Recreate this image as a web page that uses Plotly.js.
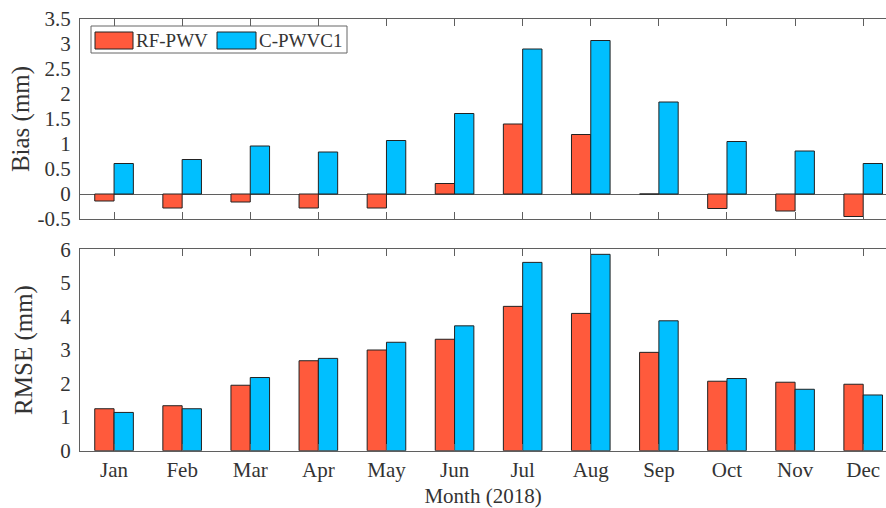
<!DOCTYPE html>
<html>
<head>
<meta charset="utf-8">
<script src="https://cdn.plot.ly/plotly-3.0.1.min.js"></script>
<style>html,body{margin:0;padding:0;background:#fff;}#chart{width:886px;height:508px;}</style>
</head>
<body>
<div id="chart"></div>
<script>
const months = ["Jan","Feb","Mar","Apr","May","Jun","Jul","Aug","Sep","Oct","Nov","Dec"];
const biasRF    = [-0.14,-0.28,-0.16,-0.28,-0.28,0.21,1.40,1.19,0.0,-0.29,-0.34,-0.45];
const biasC     = [0.61,0.69,0.96,0.84,1.07,1.61,2.90,3.07,1.84,1.05,0.86,0.61];
const rmseRF    = [1.25,1.34,1.95,2.68,3.00,3.32,4.30,4.09,2.93,2.07,2.04,1.98];
const rmseC     = [1.14,1.25,2.18,2.75,3.23,3.72,5.61,5.85,3.87,2.15,1.83,1.66];
const seriesNames = ["RF-PWV","C-PWVC1"];
const biasTicks = [-0.5,0,0.5,1,1.5,2,2.5,3,3.5];
const biasTickText = ["-0.5","0","0.5","1","1.5","2","2.5","3","3.5"];
const rmseTicks = [0,1,2,3,4,5,6];

const RED = "#FF5A3C", BLUE = "#00BFFF";
const FONT = "Liberation Serif";
const TXT = "#333333", LINE = "#5f5f5f";
const H = 508, W = 886;

function bar(y, name, color, xa, ya) {
  return {type:"bar", x: months, y: y, name: name, xaxis: xa, yaxis: ya,
    marker:{color: color, line:{color:"#222", width:1}}, showlegend:false};
}

const data = [
  bar(biasRF, seriesNames[0], RED, "x", "y"),
  bar(biasC, seriesNames[1], BLUE, "x", "y"),
  bar(rmseRF, seriesNames[0], RED, "x2", "y2"),
  bar(rmseC, seriesNames[1], BLUE, "x2", "y2")
];

const xCommon = {type:"category", range:[-0.5, 11.335], showline:true, linecolor:LINE, linewidth:1,
  mirror:"ticks", ticks:"inside", ticklen:7, tickcolor:LINE, tickwidth:1, showgrid:false, zeroline:false,
  fixedrange:true, automargin:false, tickfont:{family:FONT, size:21, color:TXT}};

const px = v => v / H;
const layout = {
  width:W, height:H, paper_bgcolor:"#fff", plot_bgcolor:"#fff",
  margin:{l:80, r:0, t:0, b:0}, barmode:"group", bargap:0.433, bargroupgap:0,
  font:{family:FONT, color:TXT},
  xaxis: Object.assign({}, xCommon, {anchor:"y", showticklabels:false, domain:[0,1]}),
  xaxis2: Object.assign({}, xCommon, {anchor:"y2", domain:[0,1],
    title:{text:"Month (2018)", font:{family:FONT, size:21, color:TXT}, standoff:9}}),
  yaxis: {domain:[1-px(219), 1-px(19)], range:[-0.5,3.5], tickvals:biasTicks, ticktext:biasTickText,
    showline:true, linecolor:LINE, linewidth:1, mirror:false, ticks:"", showgrid:false,
    zeroline:true, zerolinecolor:LINE, zerolinewidth:1, automargin:false, ticklabelstandoff:4,
    tickfont:{family:FONT, size:21, color:TXT},
    title:{text:"Bias (mm)", font:{family:FONT, size:25, color:TXT}, standoff:0}},
  yaxis2: {domain:[1-px(450.7), 1-px(249.3)], range:[0,6], tickvals:rmseTicks,
    showline:true, linecolor:LINE, linewidth:1, mirror:false, ticks:"", showgrid:false,
    zeroline:false, automargin:false, ticklabelstandoff:4,
    tickfont:{family:FONT, size:21, color:TXT},
    title:{text:"RMSE (mm)", font:{family:FONT, size:25, color:TXT}, standoff:20}},
  shapes:[
    {type:"rect", xref:"paper", yref:"paper", x0:(91-80)/806, x1:(347-80)/806, y0:1-px(53), y1:1-px(26),
      line:{color:"#666", width:1}, fillcolor:"#fff", layer:"above"},
    {type:"rect", xref:"paper", yref:"paper", x0:(95-80)/806, x1:(133-80)/806, y0:1-px(49), y1:1-px(32),
      line:{color:"#222", width:1}, fillcolor:RED, layer:"above"},
    {type:"rect", xref:"paper", yref:"paper", x0:(217-80)/806, x1:(256-80)/806, y0:1-px(49), y1:1-px(32),
      line:{color:"#222", width:1}, fillcolor:BLUE, layer:"above"}
  ],
  annotations:[
    {xref:"paper", yref:"paper", x:(134-80)/806, y:1-px(40.5), xanchor:"left", yanchor:"middle",
      text:seriesNames[0], showarrow:false, font:{family:FONT, size:19, color:TXT}},
    {xref:"paper", yref:"paper", x:(257-80)/806, y:1-px(40.5), xanchor:"left", yanchor:"middle",
      text:seriesNames[1], showarrow:false, font:{family:FONT, size:19, color:TXT}}
  ]
};

Plotly.newPlot("chart", data, layout, {staticPlot:true, displayModeBar:false});
</script>
</body>
</html>
